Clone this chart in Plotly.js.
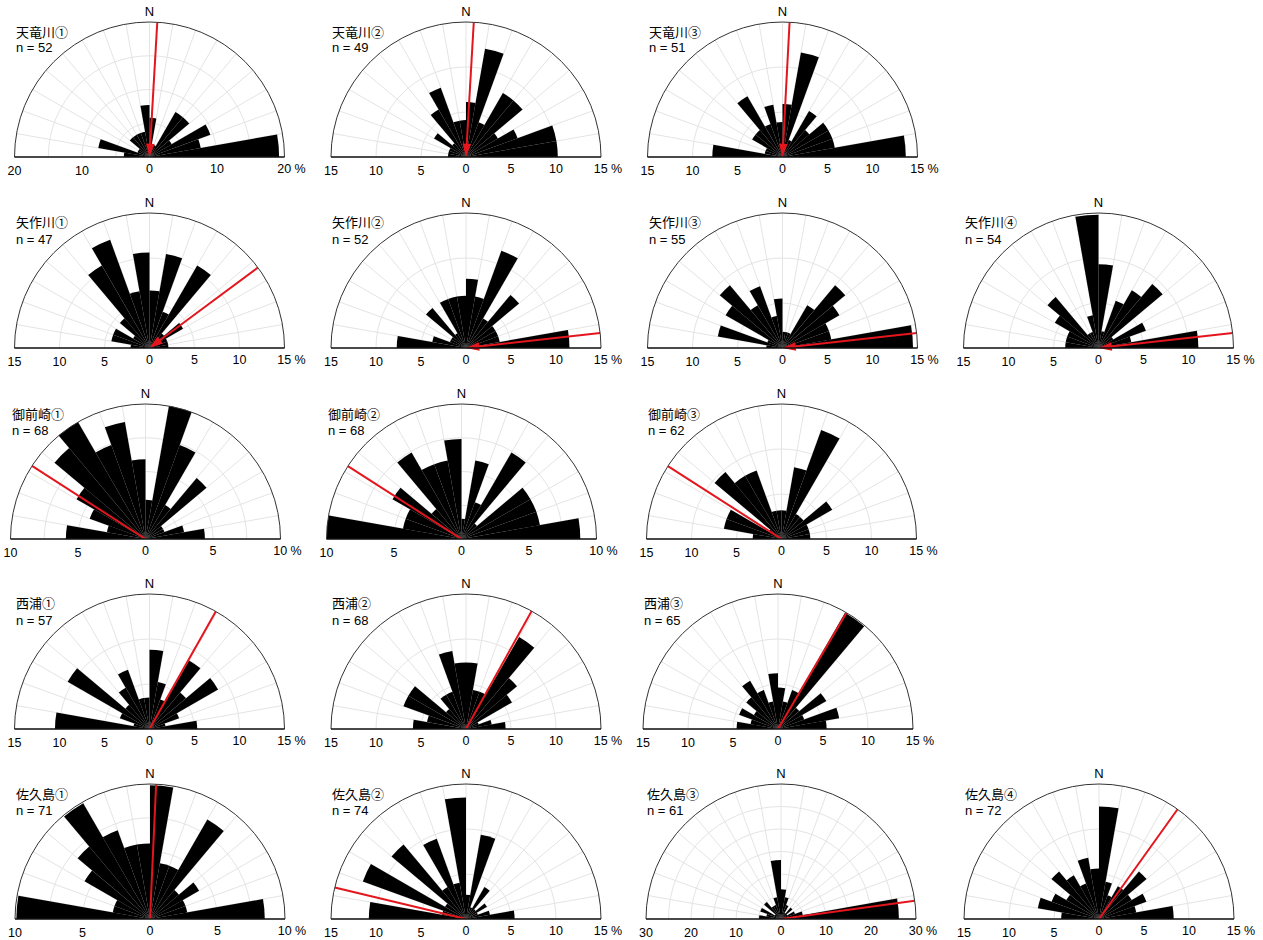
<!DOCTYPE html>
<html><head><meta charset="utf-8">
<script src="https://cdn.plot.ly/plotly-3.0.1.min.js"></script>
<style>html,body{margin:0;padding:0;background:#fff}#chart{width:1263px;height:940px}</style>
</head><body><div id="chart"></div>
<script>
// ---- DATA ----
// 10-degree bins, centre azimuth in degrees (W = -90 .. N = 0 .. E = +90)
const azimuths = [-85,-75,-65,-55,-45,-35,-25,-15,-5,5,15,25,35,45,55,65,75,85];
const stations = ['天竜川①','天竜川②','天竜川③','矢作川①','矢作川②','矢作川③','矢作川④',
                  '御前崎①','御前崎②','御前崎③','西浦①','西浦②','西浦③',
                  '佐久島①','佐久島②','佐久島③','佐久島④'];
const nCounts  = [52,49,51,47,52,55,54,68,68,62,57,68,65,71,74,61,72];
const scaleMax = [20,15,15,15,15,15,15,10,10,15,15,15,15,10,15,30,15];
const meanAz   = [3.3,3.3,3,53.4,83.6,83.6,83.6,-57.2,-57.3,-57.3,29.4,29.1,30.5,2.6,-76.5,82.2,35.6];
const arrowHead= [true,true,true,true,true,true,true,false,false,false,false,false,false,false,false,false,false];

// percentage per bin, ordered W -> E (same order as azimuths)
const tenryu1 = [3.8,7.7,1.9,1.9,3.8,3.8,3.8,3.8,7.7,5.8,1.9,1.9,7.7,7.7,3.8,9.6,7.7,19.2];
const tenryu2 = [2.0,2.0,2.0,4.1,2.0,6.1,8.2,4.1,4.1,6.1,12.2,4.1,8.2,8.2,4.1,6.1,10.2,10.2];
const tenryu3 = [7.8,2.0,2.0,3.9,3.9,7.8,3.9,5.9,3.9,5.9,11.8,2.0,5.9,3.9,5.9,5.9,5.9,13.7];
const yahagi1 = [2.1,4.3,4.3,2.1,4.3,10.6,12.8,6.4,10.6,6.4,10.6,4.3,10.6,2.1,4.3,2.1,2.1,2.1];
const yahagi2 = [7.7,3.8,1.9,1.9,5.8,1.9,5.8,5.8,5.8,7.7,5.8,11.5,3.8,7.7,3.8,3.8,3.8,11.5];
const yahagi3 = [1.8,7.3,1.8,7.3,9.1,5.5,7.3,3.6,5.5,1.8,1.8,1.8,5.5,9.1,7.3,5.5,5.5,14.5];
const yahagi4 = [3.7,3.7,3.7,5.6,7.4,1.9,1.9,3.7,14.8,9.3,1.9,5.6,7.4,9.3,1.9,5.6,3.7,11.1];
const omaezaki1 = [5.9,2.9,4.4,5.9,8.8,10.3,7.4,8.8,5.9,2.9,10.3,7.4,2.9,5.9,1.5,1.5,2.9,4.4];
const omaezaki2 = [10.3,4.4,4.4,5.9,2.9,7.4,5.9,5.9,7.4,1.5,5.9,2.9,7.4,1.5,5.9,5.9,5.9,8.8];
const omaezaki3 = [3.2,6.5,6.5,1.6,9.7,8.1,8.1,3.2,3.2,3.2,8.1,12.9,3.2,3.2,6.5,3.2,3.2,3.2];
const nishiura1 = [10.5,1.8,3.5,10.5,3.5,5.3,7.0,3.5,3.5,8.8,5.3,3.5,8.8,5.3,8.8,3.5,1.8,5.3];
const nishiura2 = [5.9,4.4,7.4,7.4,2.9,4.4,4.4,8.8,7.4,7.4,4.4,4.4,11.8,7.4,5.9,1.5,2.9,4.4];
const nishiura3 = [4.6,3.1,4.6,3.1,4.6,6.2,4.6,3.1,6.2,4.6,3.1,4.6,14.9,3.1,6.2,3.1,6.9,5.4];
const sakushima1 = [9.9,2.8,2.8,5.6,7.0,9.9,7.0,5.6,5.6,9.9,4.2,4.2,8.5,2.8,4.2,2.8,2.8,8.5];
const sakushima2 = [10.8,2.7,12.2,2.7,10.8,4.1,9.5,4.1,13.5,2.7,9.5,1.4,4.1,1.4,2.7,1.4,2.7,5.4];
const sakushima3 = [4.9,3.3,4.9,1.6,4.9,3.3,3.3,4.9,13.1,6.6,4.9,3.3,1.6,3.3,1.6,3.3,4.9,26.2];
const sakushima4 = [4.2,6.9,5.6,4.2,6.9,5.6,4.2,6.9,5.6,12.5,4.2,2.8,4.2,6.9,4.2,5.6,4.2,8.3];

const panelValues = [tenryu1,tenryu2,tenryu3,yahagi1,yahagi2,yahagi3,yahagi4,
                     omaezaki1,omaezaki2,omaezaki3,nishiura1,nishiura2,nishiura3,
                     sakushima1,sakushima2,sakushima3,sakushima4];

// ---- LAYOUT (pixel centres of each half-rose) ----
const W = 1263, H = 940, R = 135;
const centers = [
  [149.5,157],[466,157],[782.5,157],
  [149.5,348],[466,348],[782.5,348],[1098.5,348],
  [145.5,539],[461.5,539],[781.5,539],
  [149.5,729],[466,729],[778,729],
  [150,919],[466,919],[781,919],[1099,919]
];

const FONT = 'Liberation Sans, Noto Sans CJK JP, sans-serif';
const RED = '#e3161e';
const GRID = '#e4e4e4';
const TICKSIZE = 12.5;
const toMath = az => 90 - az;   // compass azimuth -> counterclockwise-from-east
const polarId = n => (n === 1 ? 'polar' : 'polar' + n);

const data = [];
const layout = {
  width: W, height: H,
  margin: {l:0, r:0, t:0, b:0},
  paper_bgcolor: '#fff',
  showlegend: false,
  dragmode: false,
  font: {family: FONT, size: 13, color: '#000'},
  annotations: []
};

const angTicks = []; const angText = [];
for (let a = 0; a <= 180; a += 10) { angTicks.push(a); angText.push(a === 90 ? 'N' : ''); }
const nb = '\u00a0';

panelValues.forEach((vals, i) => {
  const [cx, cy] = centers[i];
  const rmax = scaleMax[i];
  const labelStep = rmax >= 20 ? 10 : 5;
  const gridStep = rmax === 10 ? 2.5 : 5;
  const dom = {x: [(cx - R) / W, (cx + R) / W], y: [(H - cy) / H, (H - cy + R) / H]};

  const tv = [], tt = [], tvL = [], ttL = [];
  for (let v = 0; v <= rmax + 1e-9; v += gridStep) {
    const isLab = Math.abs(v / labelStep - Math.round(v / labelStep)) < 1e-9;
    let txt = isLab ? String(v) : '';
    tv.push(v);
    if (isLab && Math.abs(v - rmax) < 1e-9) txt = nb + nb + nb + nb + v + ' %';
    tt.push(txt);
    if (v > 0) { tvL.push(v); ttL.push(isLab ? String(v) : ''); }
  }

  const pa = polarId(2 * i + 1);
  const pb = polarId(2 * i + 2);

  layout[pa] = {
    domain: dom, sector: [0, 180], bgcolor: 'rgba(0,0,0,0)', bargap: 0,
    radialaxis: {
      range: [0, rmax], angle: 0, side: 'clockwise',
      tickmode: 'array', tickvals: tv, ticktext: tt, ticks: '',
      showline: true, linecolor: '#000', linewidth: 1,
      gridcolor: GRID, gridwidth: 1,
      tickfont: {family: FONT, size: TICKSIZE, color: '#000'}
    },
    angularaxis: {
      tickmode: 'array', tickvals: angTicks, ticktext: angText, ticks: '',
      showline: true, linecolor: '#333', linewidth: 1,
      gridcolor: GRID, gridwidth: 1,
      tickfont: {family: FONT, size: 13, color: '#000'}
    }
  };
  layout[pb] = {
    domain: dom, sector: [0, 180], bgcolor: 'rgba(0,0,0,0)',
    radialaxis: {
      range: [0, rmax], angle: 180, side: 'counterclockwise', tickangle: 180,
      tickmode: 'array', tickvals: tvL, ticktext: ttL, ticks: '',
      showline: true, linecolor: '#000', linewidth: 1, showgrid: false,
      tickfont: {family: FONT, size: TICKSIZE, color: '#000'}
    },
    angularaxis: {visible: false, showgrid: false, showline: false, showticklabels: false}
  };

  data.push({
    type: 'barpolar', subplot: pa,
    r: vals, theta: azimuths.map(toMath), width: azimuths.map(() => 10),
    marker: {color: '#000', line: {width: 0}}, hoverinfo: 'skip'
  });

  const t = toMath(meanAz[i]);
  if (arrowHead[i]) {
    data.push({
      type: 'scatterpolar', subplot: pa, mode: 'lines+markers',
      r: [rmax, 0], theta: [t, t],
      line: {color: RED, width: 2},
      marker: {symbol: 'arrow', size: [0, 14], opacity: [0, 1], color: RED, angleref: 'previous', line: {width: 0}},
      hoverinfo: 'skip', cliponaxis: false
    });
  } else {
    data.push({
      type: 'scatterpolar', subplot: pa, mode: 'lines',
      r: [0, rmax], theta: [t, t],
      line: {color: RED, width: 2}, hoverinfo: 'skip'
    });
  }
  data.push({
    type: 'scatterpolar', subplot: pb, mode: 'markers', r: [0], theta: [0],
    marker: {opacity: 0}, hoverinfo: 'skip'
  });

  layout.annotations.push({
    xref: 'paper', yref: 'paper', x: (cx - 136) / W, y: (H - (cy - 125)) / H,
    xanchor: 'left', yanchor: 'middle', showarrow: false,
    text: stations[i], font: {family: FONT, size: 13, color: '#000'}
  });
  layout.annotations.push({
    xref: 'paper', yref: 'paper', x: (cx - 136) / W, y: (H - (cy - 109)) / H,
    xanchor: 'left', yanchor: 'middle', showarrow: false,
    text: 'n = ' + nCounts[i], font: {family: FONT, size: 13, color: '#000'}
  });
});

Plotly.newPlot('chart', data, layout, {staticPlot: true, displayModeBar: false});
</script>
</body></html>
